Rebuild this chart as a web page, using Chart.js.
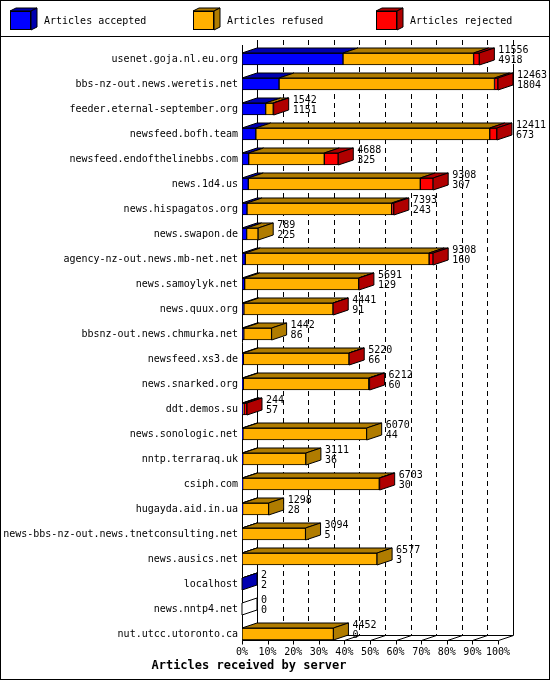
<!DOCTYPE html>
<html>
<head>
<meta charset="utf-8">
<script src="https://cdn.jsdelivr.net/npm/chart.js@4.4.1/dist/chart.umd.min.js"></script>
<style>
html,body{margin:0;padding:0;background:#fff;}
canvas{display:block;}
</style>
</head>
<body>
<canvas id="c" width="550" height="680"></canvas>
<script>
const hosts = [
  'usenet.goja.nl.eu.org','bbs-nz-out.news.weretis.net','feeder.eternal-september.org',
  'newsfeed.bofh.team','newsfeed.endofthelinebbs.com','news.1d4.us','news.hispagatos.org',
  'news.swapon.de','agency-nz-out.news.mb-net.net','news.samoylyk.net','news.quux.org',
  'bbsnz-out.news.chmurka.net','newsfeed.xs3.de','news.snarked.org','ddt.demos.su',
  'news.sonologic.net','nntp.terraraq.uk','csiph.com','hugayda.aid.in.ua',
  'news-bbs-nz-out.news.tnetconsulting.net','news.ausics.net','localhost','news.nntp4.net',
  'nut.utcc.utoronto.ca'
];
const totals   = [11556,12463,1542,12411,4688,9308,7393,789,9308,5691,4441,1442,5220,6212,244,6070,3111,6703,1298,3094,6577,2,0,4452];
const accepted = [4918,1804,1151,673,325,307,243,225,160,129,91,86,66,60,57,44,36,30,28,5,3,2,0,0];
const refused  = [6358,10489,370,11388,3681,8373,7044,564,8948,5550,4342,1356,5144,6112,40,6026,3075,6653,1270,3089,6574,0,0,4452];
const rejected = [280,170,21,350,682,628,106,0,200,12,8,0,10,40,147,0,0,20,0,0,0,0,0,0];
const tickLabels = ['0%','10%','20%','30%','40%','50%','60%','70%','80%','90%','100%'];
const seriesNames = ['Articles accepted','Articles refused','Articles rejected'];
const frontColors = ['#0000ff','#ffb000','#ff0000'];
const darkColors  = ['#0000b0','#b07c00','#b00000'];

const FONT = 'DejaVu Sans Mono';
const DX = 15, DY = -5;
const maxTotal = Math.max(...totals);
const r = v => Math.round(v) + 0.5;

function line(ctx, x1, y1, x2, y2){ ctx.beginPath(); ctx.moveTo(x1,y1); ctx.lineTo(x2,y2); ctx.stroke(); }
function poly(ctx, pts, fill){
  ctx.beginPath(); ctx.moveTo(pts[0][0], pts[0][1]);
  for (let i=1;i<pts.length;i++) ctx.lineTo(pts[i][0], pts[i][1]);
  ctx.closePath(); ctx.fillStyle = fill; ctx.fill(); ctx.stroke();
}

const frame3d = {
  id: 'frame3d',
  beforeDatasetsDraw(chart){
    const {ctx, chartArea:a, scales:{x}} = chart;
    const frontTop = a.top - 1.5, frontBot = a.bottom - 6.5;
    const backTop = frontTop + DY, backBot = frontBot + DY;
    ctx.save();
    ctx.strokeStyle = '#000'; ctx.lineWidth = 1;
    ctx.setLineDash([5,4]);
    x.ticks.forEach((t,i) => {
      if (i === 0) return;
      const px = r(x.getPixelForValue(t.value) + DX);
      line(ctx, px, backTop, px, backBot);
    });
    ctx.setLineDash([]);
    const bl = r(x.left + DX), br = r(x.right + DX);
    line(ctx, bl, backTop, bl, backBot);
    line(ctx, br, backTop + 24, br, backBot);
    line(ctx, bl, r(backBot), br, r(backBot));
    const fl = r(x.left), fr = r(x.right);
    line(ctx, fl, frontTop, fl, r(frontBot));
    line(ctx, fl, r(frontBot), fr, r(frontBot));
    x.ticks.forEach(t => {
      const px = r(x.getPixelForValue(t.value));
      line(ctx, px, r(frontBot), px + DX, r(backBot));
      line(ctx, px, r(frontBot), px, r(frontBot) + 4);
    });
    ctx.restore();
  },
  afterDatasetsDraw(chart){
    const {ctx, scales:{x}} = chart;
    const metas = chart.data.datasets.map((d,i) => chart.getDatasetMeta(i));
    ctx.save();
    ctx.strokeStyle = '#000'; ctx.lineWidth = 1;
    hosts.forEach((h, row) => {
      let last = -1;
      metas.forEach((m, di) => {
        const el = m.data[row];
        const v = chart.data.datasets[di].data[row];
        const left = Math.min(el.x, el.base), right = Math.max(el.x, el.base);
        const top = el.y - el.height/2;
        if (v > 0) {
          last = di;
          poly(ctx, [[left, top],[right, top],[right+DX, top+DY],[left+DX, top+DY]], darkColors[di]);
        }
      });
      const di = last >= 0 ? last : metas.length - 1;
      const el = metas[di].data[row];
      const right = Math.max(el.x, el.base);
      const top = el.y - el.height/2, bot = el.y + el.height/2;
      poly(ctx, [[right, top],[right+DX, top+DY],[right+DX, bot+DY],[right, bot]], last >= 0 ? darkColors[di] : '#ffffff');
      const endX = x.getPixelForValue(totals[row]);
      ctx.fillStyle = '#000';
      ctx.font = '10px "' + FONT + '"';
      ctx.textAlign = 'left'; ctx.textBaseline = 'middle';
      ctx.fillText(String(totals[row]), endX + 19, top - 3);
      ctx.fillText(String(accepted[row]), endX + 19, top + 7.5);
    });
    ctx.restore();
  },
  afterDraw(chart){
    const {ctx} = chart;
    ctx.save();
    ctx.strokeStyle = '#000'; ctx.lineWidth = 1;
    chart.data.datasets.forEach((d, i) => {
      const bx = 10 + 183*i, by = 11, bw = 21, bh = 19, dx = 6, dy = -3;
      poly(ctx, [[bx, by],[bx+bw, by],[bx+bw+dx, by+dy],[bx+dx, by+dy]], darkColors[i]);
      poly(ctx, [[bx+bw, by],[bx+bw+dx, by+dy],[bx+bw+dx, by+bh+dy],[bx+bw, by+bh]], darkColors[i]);
      ctx.fillStyle = frontColors[i];
      ctx.fillRect(bx, by, bw, bh);
      ctx.strokeRect(bx+0.5, by+0.5, bw-1, bh-1);
      ctx.fillStyle = '#000';
      ctx.font = '10px "' + FONT + '"';
      ctx.textAlign = 'left'; ctx.textBaseline = 'middle';
      ctx.fillText(d.label, bx + 34, 21);
    });
    line(ctx, 0, 36.5, 550, 36.5);
    ctx.strokeRect(0.5, 0.5, 549, 679);
    ctx.restore();
  }
};

const values = [accepted, refused, rejected];
new Chart(document.getElementById('c'), {
  type: 'bar',
  data: {
    labels: hosts,
    datasets: values.map((vals, i) => ({
      label: seriesNames[i],
      data: vals,
      backgroundColor: frontColors[i],
      borderColor: '#000',
      borderWidth: 1,
      borderSkipped: false,
      barThickness: 12
    }))
  },
  options: {
    indexAxis: 'y',
    responsive: false,
    animation: false,
    devicePixelRatio: 1,
    layout: { padding: { top: 46.5, right: 52, bottom: 0, left: 0 } },
    plugins: {
      legend: { display: false },
      tooltip: { enabled: false },
      title: {
        display: true, position: 'bottom', text: 'Articles received by server',
        color: '#000', font: { family: FONT, size: 12, weight: 'bold' },
        padding: { top: 0, bottom: 7 }
      }
    },
    scales: {
      x: {
        stacked: true, min: 0, max: maxTotal,
        grid: { display: false, drawTicks: false },
        border: { display: false },
        ticks: {
          stepSize: maxTotal / 10, padding: 0, color: '#000', maxRotation: 0,
          autoSkip: false,
          font: { family: FONT, size: 10 },
          callback: (v, i) => tickLabels[i]
        },
        afterFit: s => { s.height = 12.1; }
      },
      y: {
        stacked: true,
        grid: { display: false, drawTicks: false },
        border: { display: false },
        ticks: { autoSkip: false, padding: 4, color: '#000', font: { family: FONT, size: 10 } },
        afterFit: s => { s.width = 242; }
      }
    }
  },
  plugins: [frame3d]
});
</script>
</body>
</html>
